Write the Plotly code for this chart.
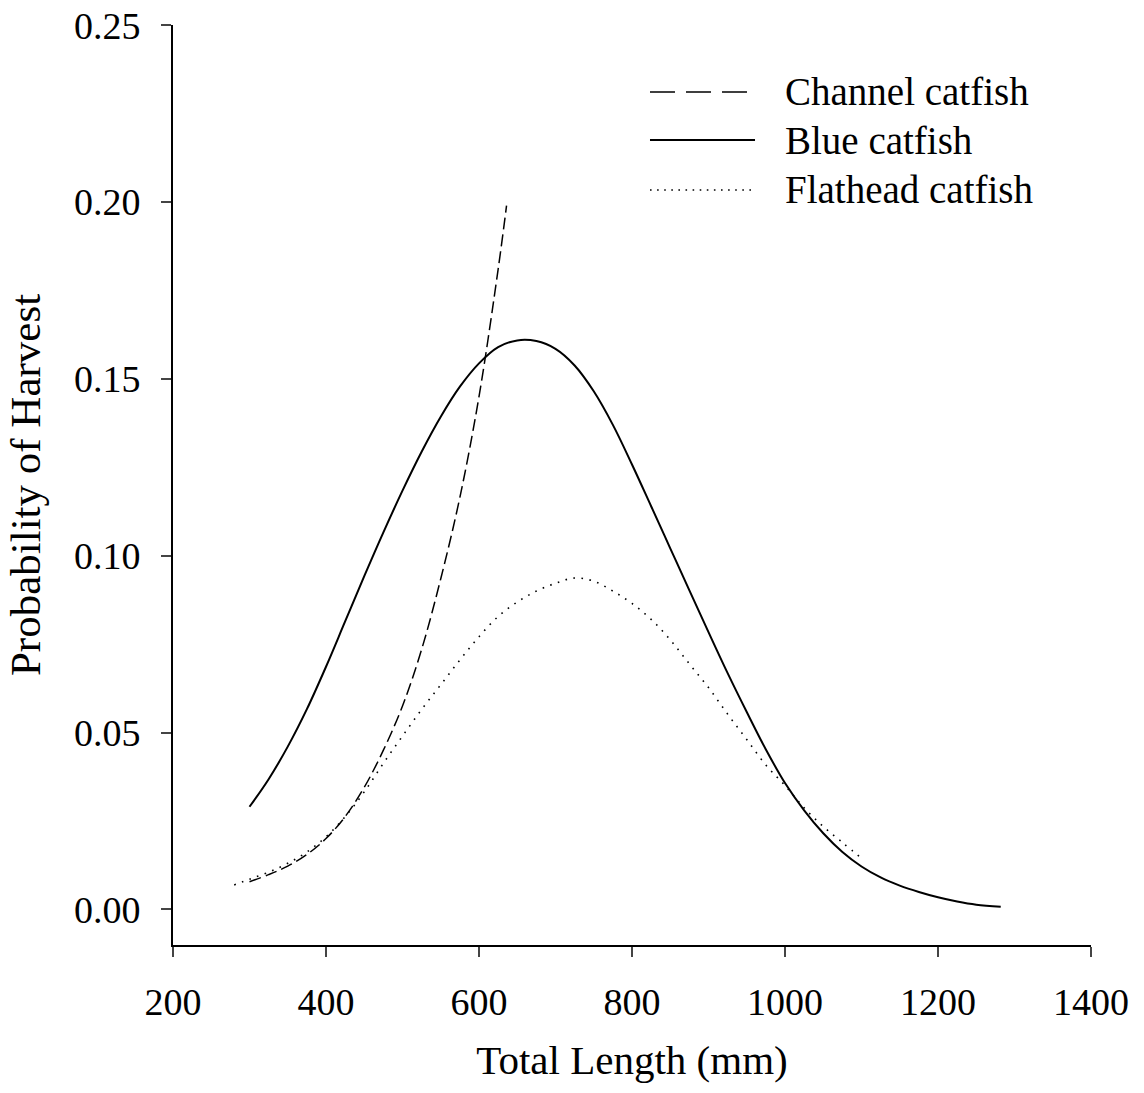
import plotly.graph_objects as go

# ---- data ----
blue_x = [300, 325, 350, 375, 400, 425, 450, 475, 500, 525, 550, 575, 600, 625, 650, 675, 700,
          725, 750, 775, 800, 825, 850, 875, 900, 925, 950, 975, 1000, 1025, 1050, 1075, 1100,
          1125, 1150, 1175, 1200, 1225, 1250, 1282]
blue_y = [0.0290, 0.0368, 0.0460, 0.0566, 0.0686, 0.0814, 0.0942, 0.1066, 0.1184, 0.1294, 0.1393,
          0.1478, 0.1544, 0.1590, 0.1609, 0.1607, 0.1585, 0.1538, 0.1465, 0.1370, 0.1258, 0.1140,
          0.1021, 0.0902, 0.0784, 0.0668, 0.0558, 0.0452, 0.0357, 0.0280, 0.0215, 0.0162, 0.0121,
          0.0090, 0.0067, 0.0049, 0.0034, 0.0022, 0.0013, 0.0007]

channel_x = [300, 325, 350, 375, 400, 425, 450, 475, 500, 525, 550, 575, 600, 625, 636]
channel_y = [0.0078, 0.0098, 0.0122, 0.0155, 0.0200, 0.0262, 0.0345, 0.0450, 0.0575, 0.0735,
             0.0935, 0.1165, 0.1450, 0.1810, 0.1990]

flat_x = [280, 300, 325, 350, 375, 400, 425, 450, 475, 500, 525, 550, 575, 600, 625, 650, 675,
          700, 725, 750, 775, 800, 825, 850, 875, 900, 925, 950, 975, 1000, 1025, 1050, 1075, 1102]
flat_y = [0.0069, 0.0085, 0.0105, 0.0130, 0.0162, 0.0205, 0.0262, 0.0332, 0.0413, 0.0490, 0.0565,
          0.0635, 0.0705, 0.0771, 0.0828, 0.0869, 0.0900, 0.0922, 0.0937, 0.0928, 0.0900, 0.0865,
          0.0820, 0.0762, 0.0694, 0.0627, 0.0552, 0.0480, 0.0408, 0.0350, 0.0287, 0.0234, 0.0189,
          0.0141]

series_names = ["Channel catfish", "Blue catfish", "Flathead catfish"]
x_ticks = [200, 400, 600, 800, 1000, 1200, 1400]
y_ticks = [0.00, 0.05, 0.10, 0.15, 0.20, 0.25]

FONT = "Liberation Serif, Times New Roman, serif"

fig = go.Figure()
fig.add_trace(go.Scatter(x=channel_x, y=channel_y, mode="lines", name=series_names[0],
                         line=dict(color="black", width=1.5, dash="12px,5px", shape="spline")))
fig.add_trace(go.Scatter(x=blue_x, y=blue_y, mode="lines", name=series_names[1],
                         line=dict(color="black", width=2, shape="spline")))
fig.add_trace(go.Scatter(x=flat_x, y=flat_y, mode="lines", name=series_names[2],
                         line=dict(color="black", width=1.6, dash="1.6px,6.5px", shape="spline")))

# manual legend (long sample lines like the reference)
leg_y = [0.9272, 0.8750, 0.8207]
leg_dash = ["25px,11px", "solid", "1.6px,5.5px"]
leg_w = [1.6, 2, 1.6]
for name, yy, d, w in zip(series_names, leg_y, leg_dash, leg_w):
    fig.add_shape(type="line", xref="paper", yref="paper", x0=0.5196, x1=0.634, y0=yy, y1=yy,
                  line=dict(color="black", width=w, dash=d))
    fig.add_annotation(xref="paper", yref="paper", x=0.6645, y=yy, text=name, showarrow=False,
                       xanchor="left", yanchor="middle", font=dict(family=FONT, size=39, color="black"))

fig.update_layout(
    width=1144, height=1093,
    margin=dict(l=173, r=53, t=25, b=148),
    plot_bgcolor="white", paper_bgcolor="white",
    showlegend=False,
    font=dict(family=FONT, color="black"),
)
fig.update_xaxes(range=[200, 1400], tickvals=x_ticks, ticks="outside", ticklen=10, tickwidth=2,
                 showline=True, linecolor="black", linewidth=2, showgrid=False, zeroline=False,
                 automargin=False,
                 tickfont=dict(family=FONT, size=38, color="black"), ticklabelstandoff=12,
                 title=dict(text="Total Length (mm)", font=dict(family=FONT, size=41, color="black"), standoff=24))
fig.update_yaxes(range=[-0.0101, 0.2501], tickvals=y_ticks, tickformat=".2f", ticks="outside", ticklen=10,
                 tickwidth=2, showline=True, linecolor="black", linewidth=2, showgrid=False, zeroline=False,
                 automargin=False,
                 tickfont=dict(family=FONT, size=38, color="black"), ticklabelstandoff=13,
                 title=dict(text="Probability of Harvest", font=dict(family=FONT, size=43, color="black"), standoff=20))

fig.write_html("out.html")
